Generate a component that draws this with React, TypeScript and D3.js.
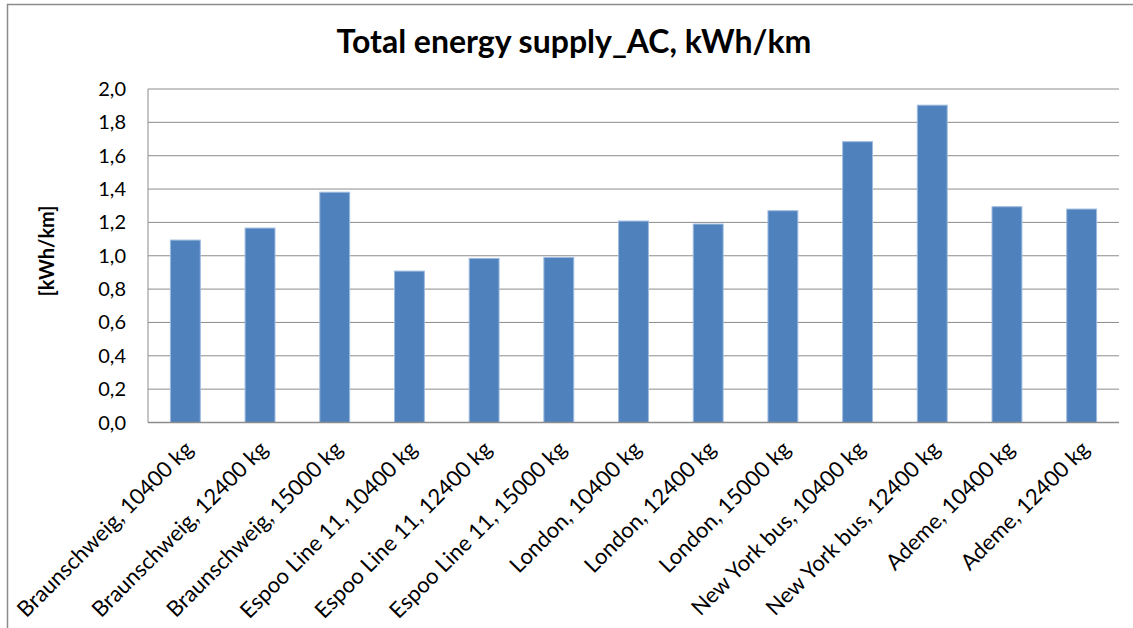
import { useEffect, useRef } from "react";
import * as d3 from "d3";

const categorias = [
  "Braunschweig, 10400 kg",
  "Braunschweig, 12400 kg",
  "Braunschweig, 15000 kg",
  "Espoo Line 11, 10400 kg",
  "Espoo Line 11, 12400 kg",
  "Espoo Line 11, 15000 kg",
  "London, 10400 kg",
  "London, 12400 kg",
  "London, 15000 kg",
  "New York bus, 10400 kg",
  "New York bus, 12400 kg",
  "Ademe, 10400 kg",
  "Ademe, 12400 kg",
];

const valores = [1.094, 1.166, 1.381, 0.908, 0.984, 0.99, 1.208, 1.19, 1.27, 1.684, 1.903, 1.294, 1.28];

const ticksY = [0, 0.2, 0.4, 0.6, 0.8, 1.0, 1.2, 1.4, 1.6, 1.8, 2.0];

const titulo = "Total energy supply_AC, kWh/km";
const tituloEje = "[kWh/km]";

const ANCHO = 1133;
const ALTO = 628;
const FUENTE = "Lato, 'Open Sans', sans-serif";

export default function App() {
  const svgRef = useRef<SVGSVGElement>(null);

  useEffect(() => {
    if (!svgRef.current) return;
    const svg = d3.select(svgRef.current);
    svg.selectAll("*").remove();

    const area = { left: 148, right: 1119, top: 89, bottom: 422.5 };

    // fondo y marco del gráfico
    svg.append("rect").attr("width", ANCHO).attr("height", ALTO).attr("fill", "#fff");
    svg
      .append("rect")
      .attr("x", 7.5)
      .attr("y", 4.5)
      .attr("width", ANCHO + 10)
      .attr("height", ALTO + 10)
      .attr("fill", "none")
      .attr("stroke", "#8c8c8c")
      .attr("stroke-width", 1.5);

    const x = d3
      .scaleBand()
      .domain(categorias)
      .range([area.left, area.right])
      .paddingInner(0.6)
      .paddingOuter(0.3);

    const y = d3.scaleLinear().domain([0, 2]).range([area.bottom, area.top]);
    const fmt = (v: number) => d3.format(".1f")(v).replace(".", ",");

    // rejilla
    svg
      .append("g")
      .selectAll("line")
      .data(ticksY)
      .enter()
      .append("line")
      .attr("x1", area.left)
      .attr("x2", area.right)
      .attr("y1", (d) => y(d))
      .attr("y2", (d) => y(d))
      .attr("stroke", "#8c8c8c")
      .attr("stroke-width", 1);

    // eje vertical
    svg
      .append("line")
      .attr("x1", area.left)
      .attr("x2", area.left)
      .attr("y1", area.top)
      .attr("y2", area.bottom)
      .attr("stroke", "#8c8c8c")
      .attr("stroke-width", 1);

    svg
      .append("g")
      .selectAll("text")
      .data(ticksY)
      .enter()
      .append("text")
      .attr("x", 126)
      .attr("y", (d) => y(d))
      .attr("dy", "0.35em")
      .attr("text-anchor", "end")
      .attr("font-family", FUENTE)
      .attr("font-size", 20)
      .attr("fill", "#000")
      .text((d) => fmt(d));

    // barras
    svg
      .append("g")
      .selectAll("rect")
      .data(valores)
      .enter()
      .append("rect")
      .attr("x", (_d, i) => x(categorias[i]) || 0)
      .attr("y", (d) => y(d))
      .attr("width", x.bandwidth())
      .attr("height", (d) => area.bottom - y(d))
      .attr("fill", "#4f81bd")
      .attr("stroke", "#9dbbe0")
      .attr("stroke-width", 1);

    // eje horizontal encima de las barras
    svg
      .append("line")
      .attr("x1", area.left)
      .attr("x2", area.right)
      .attr("y1", area.bottom)
      .attr("y2", area.bottom)
      .attr("stroke", "#8c8c8c")
      .attr("stroke-width", 1.5);

    // etiquetas rotadas
    svg
      .append("g")
      .selectAll("text")
      .data(categorias)
      .enter()
      .append("text")
      .attr(
        "transform",
        (d) => `translate(${(x(d) || 0) + x.bandwidth() / 2 + 9},${area.bottom + 28}) rotate(-45)`
      )
      .attr("text-anchor", "end")
      .attr("font-family", FUENTE)
      .attr("font-size", 22)
      .attr("fill", "#000")
      .text((d) => d);

    // título del eje
    svg
      .append("text")
      .attr("transform", `translate(54,251) rotate(-90)`)
      .attr("text-anchor", "middle")
      .attr("font-family", FUENTE)
      .attr("font-weight", 700)
      .attr("font-size", 20)
      .attr("fill", "#000")
      .text(tituloEje);

    // título
    svg
      .append("text")
      .attr("x", 574)
      .attr("y", 53)
      .attr("text-anchor", "middle")
      .attr("font-family", FUENTE)
      .attr("font-weight", 700)
      .attr("font-size", 32)
      .attr("fill", "#000")
      .text(titulo);
  }, []);

  return (
    <div style={{ position: "absolute", left: 0, top: 0 }}>
      <svg ref={svgRef} width={ANCHO} height={ALTO} viewBox={`0 0 ${ANCHO} ${ALTO}`} style={{ display: "block" }} />
    </div>
  );
}
